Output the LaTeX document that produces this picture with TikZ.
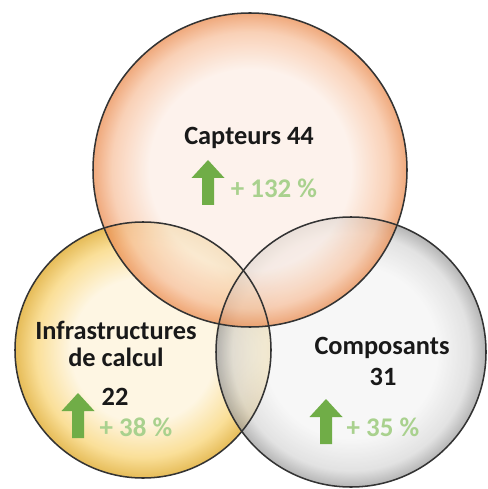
\documentclass[tikz,border=0pt]{standalone}
\usepackage{fontspec}
\setmainfont{Carlito}
\definecolor{orangein}{HTML}{FCEEE6}
\definecolor{orangemid}{HTML}{F7C19E}
\definecolor{orangeout}{HTML}{EA8C50}
\definecolor{yellowin}{HTML}{FEF3DA}
\definecolor{yellowmid}{HTML}{F8D475}
\definecolor{yellowout}{HTML}{DDA520}
\definecolor{greyin}{HTML}{F4F4F4}
\definecolor{greymid}{HTML}{D8D8D8}
\definecolor{greyout}{HTML}{9C9C9C}
\definecolor{arrowgreen}{HTML}{70AD47}
\definecolor{pctgreen}{HTML}{A9D18E}
\pgfdeclareradialshading{orangebubble}{\pgfpoint{0bp}{0bp}}{color(0bp)=(orangein); color(16bp)=(orangein); color(22bp)=(orangemid); color(25bp)=(orangeout); color(50bp)=(orangeout)}
\pgfdeclareradialshading{yellowbubble}{\pgfpoint{0bp}{0bp}}{color(0bp)=(yellowin); color(14bp)=(yellowin); color(21bp)=(yellowmid); color(25bp)=(yellowout); color(50bp)=(yellowout)}
\pgfdeclareradialshading{greybubble}{\pgfpoint{0bp}{0bp}}{color(0bp)=(greyin); color(16bp)=(greyin); color(22bp)=(greymid); color(25bp)=(greyout); color(50bp)=(greyout)}
\tikzset{
  bubble/.style={shading=#1, fill opacity=0.75},
  rim/.style={draw=black!80, line width=1.3pt},
  label/.style={font=\fontsize{22.5}{23}\selectfont\bfseries, text=black!90, align=center, inner sep=0pt},
  pct/.style={font=\fontsize{23}{23}\selectfont\bfseries, text=pctgreen, inner sep=0pt},
  uparrow/.pic={\fill[arrowgreen] (0,0) -- (16.5,18) -- (6,18) -- (6,45) -- (-6,45) -- (-6,18) -- (-16.5,18) -- cycle;}
}
\begin{document}
\begin{tikzpicture}[x=0.03cm, y=-0.03cm]
\useasboundingbox (0,0) rectangle (487,489);
\coordinate (infra) at (143,350);
\coordinate (compo) at (351,352);
\coordinate (capt) at (250,170);
\foreach \c/\r/\s in {infra/128/yellowbubble, compo/135/greybubble, capt/157/orangebubble}{
  \shade[bubble=\s] (\c) circle[radius=\r];
}
\foreach \c/\r in {infra/128, compo/135, capt/157}{
  \draw[rim] (\c) circle[radius=\r];
}
\node[label] (captlabel) at (249,138) {Capteurs 44};
\pic at (208,160) {uparrow};
\node[pct] (captpct) at (274,188) {+ 132 \%};
\node[label] (infralabel) at (116,344) {Infrastructures\\de calcul};
\node[label] (infranum) at (115,397) {22};
\pic at (78,393) {uparrow};
\node[pct] (infrapct) at (136,427) {+ 38 \%};
\node[label] (compolabel) at (382,348) {Composants};
\node[label] (componum) at (383,377) {31};
\pic at (326,399) {uparrow};
\node[pct] (compopct) at (383,427) {+ 35 \%};
\end{tikzpicture}
\end{document}
